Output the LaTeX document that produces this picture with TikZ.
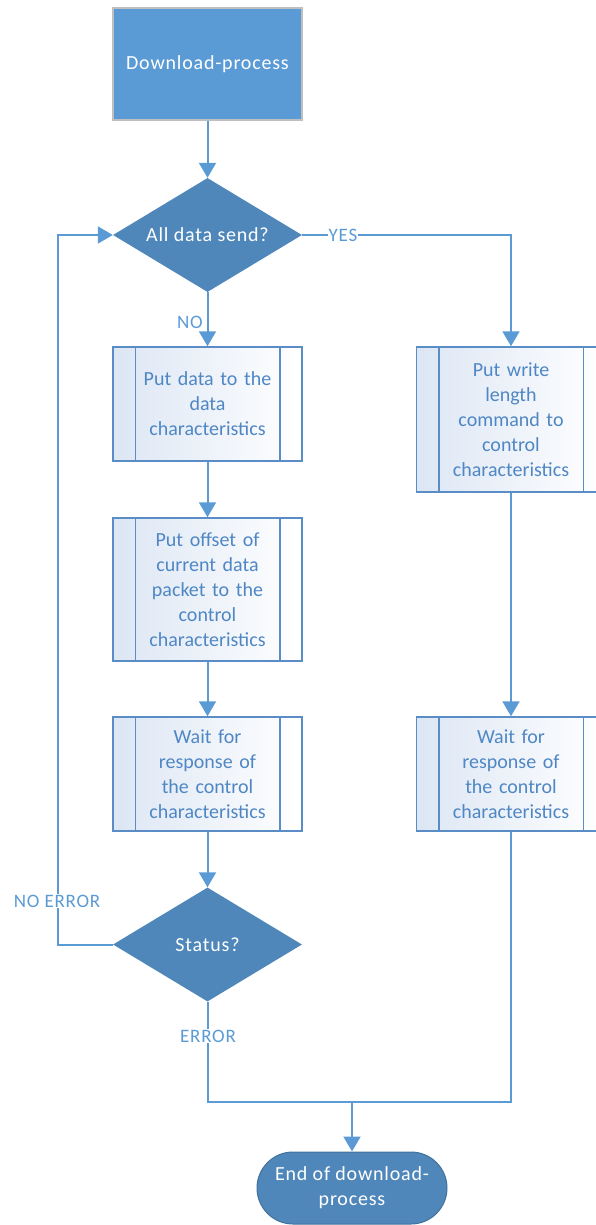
\documentclass[tikz,border=0pt]{standalone}
\usepackage{fontspec}
\setmainfont{Carlito}
\newfontfamily\spacedfont[LetterSpace=4]{Carlito}
\usetikzlibrary{arrows.meta,shapes.geometric,shapes.misc}
\definecolor{lineblue}{HTML}{5B9BD5}
\definecolor{darkblue}{HTML}{4F87BA}
\definecolor{edgeblue}{HTML}{41719C}
\definecolor{boxedge}{HTML}{5A8DC6}
\definecolor{txtblue}{HTML}{4F87C4}
\definecolor{shadeblue}{HTML}{DCE6F4}
\tikzset{
  every node/.style={font=\fontsize{20}{25}\selectfont},
  conn/.style={draw=lineblue, line width=2pt},
  arr/.style={conn, -{Triangle[width=17pt,length=15pt]}},
  startbox/.style={rectangle, draw=black!25, line width=1.5pt, fill=lineblue, text=white, minimum width=189pt, minimum height=112pt, inner sep=0pt, font=\spacedfont\fontsize{20}{25}\selectfont},
  decision/.style={diamond, fill=darkblue, text=white, minimum width=189pt, minimum height=114pt, inner sep=0pt, aspect=1.66, font=\spacedfont\fontsize{20}{25}\selectfont},
  subproc/.style={rectangle, draw=boxedge, line width=1.5pt, left color=shadeblue, right color=white, text=txtblue, minimum width=189pt, align=center, text width=140pt, inner sep=0pt},
  terminal/.style={rounded rectangle, draw=edgeblue, line width=1pt, fill=darkblue, text=white, minimum width=190pt, minimum height=72pt, align=center, inner sep=0pt, font=\spacedfont\fontsize{20}{25}\selectfont},
  lbl/.style={text=lineblue, fill=white, inner sep=1pt, font=\spacedfont\fontsize{19}{22}\selectfont}
}
\begin{document}
\begin{tikzpicture}[x=1pt,y=-1pt]
\useasboundingbox (0,0) rectangle (595,1225);
\node[startbox] (start) at (207.5,64) {Download-process};
\node[decision] (d1) at (207.5,235) {All data send?};
\node[subproc, minimum height=114pt] (b1) at (207.5,404) {Put data to the\\data\\characteristics};
\node[subproc, minimum height=143pt] (b2) at (207.5,589.5) {Put offset of\\current data\\packet to the\\control\\characteristics};
\node[subproc, minimum height=114pt] (b3) at (207.5,774) {Wait for\\response of\\the control\\characteristics};
\node[decision] (d2) at (207.5,944.5) {Status?};
\node[subproc, minimum height=145pt] (r1) at (511,419.5) {Put write\\length\\command to\\control\\characteristics};
\node[subproc, minimum height=114pt] (r2) at (511,774) {Wait for\\response of\\the control\\characteristics};
\node[terminal] (end) at (352,1188) {End of download-\\process};
\foreach \b in {b1,b2,b3,r1,r2}{
  \draw[draw=boxedge, line width=1.5pt] ([xshift=23pt]\b.north west) -- ([xshift=23pt]\b.south west);
  \draw[draw=boxedge, line width=1.5pt] ([xshift=-23pt]\b.north east) -- ([xshift=-23pt]\b.south east);
}
\coordinate (m) at (352,1102);
\draw[arr] (start) -- (d1);
\draw[arr] (d1.south) -- (b1.north);
\draw[arr] (b1) -- (b2);
\draw[arr] (b2) -- (b3);
\draw[arr] (b3) -- (d2);
\draw[arr] (d1.east) -| (r1.north);
\draw[arr] (r1) -- (r2);
\draw[arr] (d2.west) -- ++(-55,0) |- (d1.west);
\draw[conn] (d2.south) |- (m);
\draw[conn] (r2.south) |- (m);
\draw[arr] (m) -- (end.north);
\node[lbl] (yes) at (343,235) {YES};
\node[lbl, fill=none] (no) at (190,322) {NO};
\node[lbl] (noerr) at (57,901) {NO ERROR};
\node[lbl] (err) at (208,1036) {ERROR};
\end{tikzpicture}
\end{document}
